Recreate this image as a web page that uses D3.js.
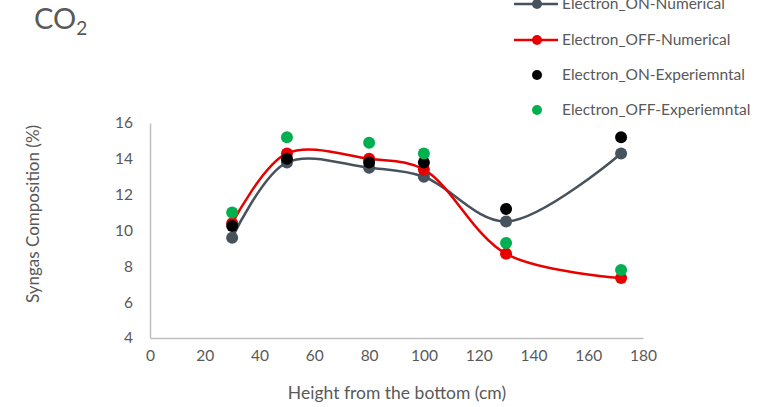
<!DOCTYPE html>
<html>
<head>
<meta charset="utf-8">
<script src="https://cdn.jsdelivr.net/npm/d3@7"></script>
<style>
  html, body { margin: 0; padding: 0; background: #fff; }
  svg { display: block; font-family: "Lato", "Open Sans", sans-serif; }
</style>
</head>
<body>
<svg id="chart" width="767" height="407"></svg>
<script>
// Heights (cm) where composition was sampled
const heights = [30, 50, 80, 100, 130, 172];

// CO2 composition (%) per series
const onNumerical  = [9.6, 13.8, 13.5, 13.0, 10.5, 14.3];
const offNumerical = [10.4, 14.3, 14.0, 13.4, 8.7, 7.35];
const onExperiment = [10.25, 14.0, 13.8, 13.8, 11.2, 15.2];
const offExperiment = [11.0, 15.2, 14.9, 14.3, 9.3, 7.8];

const xTicks = [0, 20, 40, 60, 80, 100, 120, 140, 160, 180];
const yTicks = [4, 6, 8, 10, 12, 14, 16];

const seriesNames = [
  "Electron_ON-Numerical",
  "Electron_OFF-Numerical",
  "Electron_ON-Experiemntal",
  "Electron_OFF-Experiemntal"
];
const seriesColors = ["#46525c", "#e60000", "#000000", "#00b050"];

const svg = d3.select("#chart");
const textColor = "#595959";
const axisColor = "#bfbfbf";

const x = d3.scaleLinear().domain([0, 180]).range([150, 643]);
const y = d3.scaleLinear().domain([4, 16]).range([338, 123]);

// Axes
const xAxis = svg.append("g").attr("transform", `translate(0,${y(4)})`)
  .call(d3.axisBottom(x).tickValues(xTicks).tickSize(0).tickPadding(12));
const yAxis = svg.append("g").attr("transform", `translate(${x(0)},0)`)
  .call(d3.axisLeft(y).tickValues(yTicks).tickSize(0).tickPadding(17));
[xAxis, yAxis].forEach(g => {
  g.select(".domain").attr("stroke", axisColor).attr("stroke-width", 1.5);
  g.selectAll("text").attr("fill", textColor).attr("font-size", 15.5)
    .attr("font-family", "Lato, 'Open Sans', sans-serif");
});

// Axis titles
svg.append("text").attr("x", 397).attr("y", 393).attr("dy", "0.35em")
  .attr("text-anchor", "middle")
  .attr("fill", textColor).attr("font-size", 17.5).text("Height from the bottom (cm)");
svg.append("text").attr("transform", "translate(33,214) rotate(-90)")
  .attr("dy", "0.35em")
  .attr("text-anchor", "middle").attr("fill", textColor).attr("font-size", 17)
  .text("Syngas Composition (%)");

// Chart title
const title = svg.append("text").attr("x", 34).attr("y", 29)
  .attr("fill", textColor).attr("font-size", 29);
title.append("tspan").text("CO");
title.append("tspan").attr("font-size", 19).attr("dy", 6).text("2");

// Smoothed numerical curves
const line = d3.line()
  .x((d, i) => x(heights[i]))
  .y(d => y(d))
  .curve(d3.curveCatmullRom.alpha(0.5));

[onNumerical, offNumerical].forEach((vals, k) => {
  svg.append("path").attr("d", line(vals)).attr("fill", "none")
    .attr("stroke", seriesColors[k]).attr("stroke-width", 2.5);
});

// Markers for every series
[onNumerical, offNumerical, onExperiment, offExperiment].forEach((vals, k) => {
  svg.append("g").selectAll("circle").data(vals).join("circle")
    .attr("cx", (d, i) => x(heights[i]))
    .attr("cy", d => y(d))
    .attr("r", 6)
    .attr("fill", seriesColors[k]);
});

// Legend
const legendY = [4, 40, 75, 110];
seriesNames.forEach((name, k) => {
  const g = svg.append("g").attr("transform", `translate(0,${legendY[k]})`);
  if (k < 2) {
    g.append("line").attr("x1", 514).attr("x2", 558).attr("y1", 0).attr("y2", 0)
      .attr("stroke", seriesColors[k]).attr("stroke-width", 2.5);
  }
  g.append("circle").attr("cx", 537).attr("cy", 0).attr("r", 5).attr("fill", seriesColors[k]);
  g.append("text").attr("x", 562).attr("y", 0).attr("dy", "0.35em")
    .attr("fill", textColor).attr("font-size", 15.5).text(name);
});
</script>
</body>
</html>
